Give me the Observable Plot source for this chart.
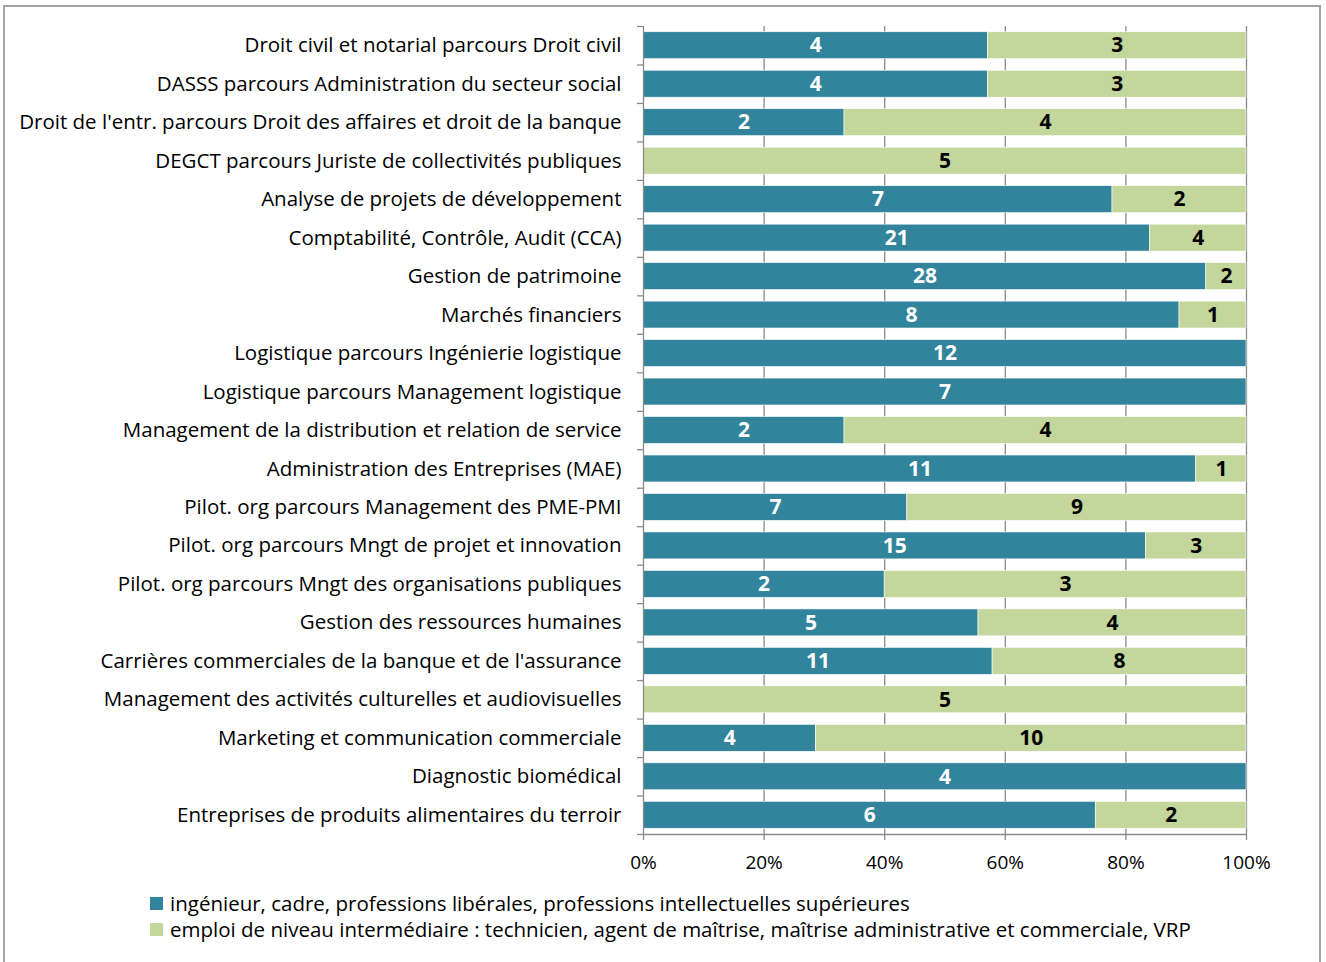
<!DOCTYPE html>
<html>
<head>
<meta charset="utf-8">
<script src="https://cdn.jsdelivr.net/npm/d3@7"></script>
<script src="https://cdn.jsdelivr.net/npm/@observablehq/plot@0.6"></script>
<style>
  html, body { margin: 0; padding: 0; background: #fff; }
  #wrap { position: relative; width: 1326px; height: 962px; overflow: hidden; font-family: "Open Sans", sans-serif; }
  #frame { position: absolute; left: 3px; top: 5px; width: 1318px; height: 970px; border: 2px solid #a3a3a3; box-sizing: border-box; }
  #chart { position: absolute; left: 0; top: 0; }
  #legend { position: absolute; left: 150px; top: 890px; font-size: 20.5px; color: #000; line-height: 26px; }
  #legend .item { display: flex; align-items: center; white-space: nowrap; }
  #legend .sw { width: 13px; height: 13px; margin-right: 7px; display: inline-block; }
</style>
</head>
<body>
<div id="wrap">
  <div id="frame"></div>
  <div id="chart"></div>
  <div id="legend"></div>
</div>
<script>
const categories = [
  "Droit civil et notarial parcours Droit civil",
  "DASSS parcours Administration du secteur social",
  "Droit de l'entr. parcours Droit des affaires et droit de la banque",
  "DEGCT parcours Juriste de collectivités publiques",
  "Analyse de projets de développement",
  "Comptabilité, Contrôle, Audit (CCA)",
  "Gestion de patrimoine",
  "Marchés financiers",
  "Logistique parcours Ingénierie logistique",
  "Logistique parcours Management logistique",
  "Management de la distribution et relation de service",
  "Administration des Entreprises (MAE)",
  "Pilot. org parcours Management des PME-PMI",
  "Pilot. org parcours Mngt de projet et innovation",
  "Pilot. org parcours Mngt des organisations publiques",
  "Gestion des ressources humaines",
  "Carrières commerciales de la banque et de l'assurance",
  "Management des activités culturelles et audiovisuelles",
  "Marketing et communication commerciale",
  "Diagnostic biomédical",
  "Entreprises de produits alimentaires du terroir"
];
const cadre =         [4, 4, 2, 0, 7, 21, 28, 8, 12, 7, 2, 11, 7, 15, 2, 5, 11, 0, 4, 4, 6];
const intermediaire = [3, 3, 4, 5, 2, 4, 2, 1, 0, 0, 4, 1, 9, 3, 3, 4, 8, 5, 10, 0, 2];
const seriesNames = [
  "ingénieur, cadre, professions libérales, professions intellectuelles supérieures",
  "emploi de niveau intermédiaire : technicien, agent de maîtrise, maîtrise administrative et commerciale, VRP"
];
const seriesColors = ["#31849B", "#C3D69B"];
const labelColors = ["#ffffff", "#000000"];
const xTicks = [0, 0.2, 0.4, 0.6, 0.8, 1];

const data = categories.flatMap((c, i) => [
  {cat: c, series: seriesNames[0], value: cadre[i]},
  {cat: c, series: seriesNames[1], value: intermediaire[i]}
]);

const W = 1326, H = 880, mT = 26, mB = 46, mL = 643, mR = 80;
const step = (H - mT - mB) / categories.length;
const gridColor = "#8a8a8a";
const font = "'Open Sans', sans-serif";

const stackOpts = {x: "value", y: "cat", z: "series", order: seriesNames, offset: "normalize"};

const labelMarks = seriesNames.map((s, k) =>
  Plot.text(data, Plot.stackX({...stackOpts,
    text: d => (d.series === s && d.value > 0) ? String(d.value) : "",
    fill: labelColors[k], fontWeight: "bold", fontSize: 21}))
);

const chart = Plot.plot({
  width: W, height: H,
  marginTop: mT, marginBottom: mB, marginLeft: mL, marginRight: mR,
  style: {fontFamily: font, fontSize: "20.5px", color: "#000", background: "transparent"},
  x: {domain: [0, 1]},
  y: {domain: categories, paddingInner: 0.3, paddingOuter: 0.15, round: false},
  color: {domain: seriesNames, range: seriesColors},
  marks: [
    Plot.ruleX(xTicks.slice(1), {stroke: gridColor, strokeWidth: 1.3}),
    Plot.barX(data, Plot.stackX({...stackOpts, fill: "series", stroke: "white", strokeWidth: 0.6})),
    ...labelMarks,
    Plot.ruleX([0], {stroke: gridColor, strokeWidth: 1.3}),
    Plot.ruleY([categories[categories.length - 1]], {x1: 0, x2: 1, dy: step / 2, stroke: gridColor, strokeWidth: 1.3}),
    Plot.ruleY(categories, {x1: 0, x2: 0, insetLeft: -6, dy: -step / 2, stroke: gridColor, strokeWidth: 1.3}),
    Plot.ruleY([categories[categories.length - 1]], {x1: 0, x2: 0, insetLeft: -6, dy: step / 2, stroke: gridColor, strokeWidth: 1.3}),
    Plot.axisY({tickSize: 0, tickPadding: 22, fontSize: 20.5, fill: "#000", label: null}),
    Plot.axisX({ticks: xTicks, tickFormat: d3.format(".0%"), tickSize: 6, tickPadding: 15, fontSize: 19, stroke: gridColor, strokeWidth: 1.3, fill: "#000", label: null})
  ]
});
document.getElementById("chart").appendChild(chart);

const legend = document.getElementById("legend");
seriesNames.forEach((name, i) => {
  const item = document.createElement("div");
  item.className = "item";
  const sw = document.createElement("span");
  sw.className = "sw";
  sw.style.background = seriesColors[i];
  const t = document.createElement("span");
  t.textContent = name;
  item.appendChild(sw);
  item.appendChild(t);
  legend.appendChild(item);
});
</script>
</body>
</html>
